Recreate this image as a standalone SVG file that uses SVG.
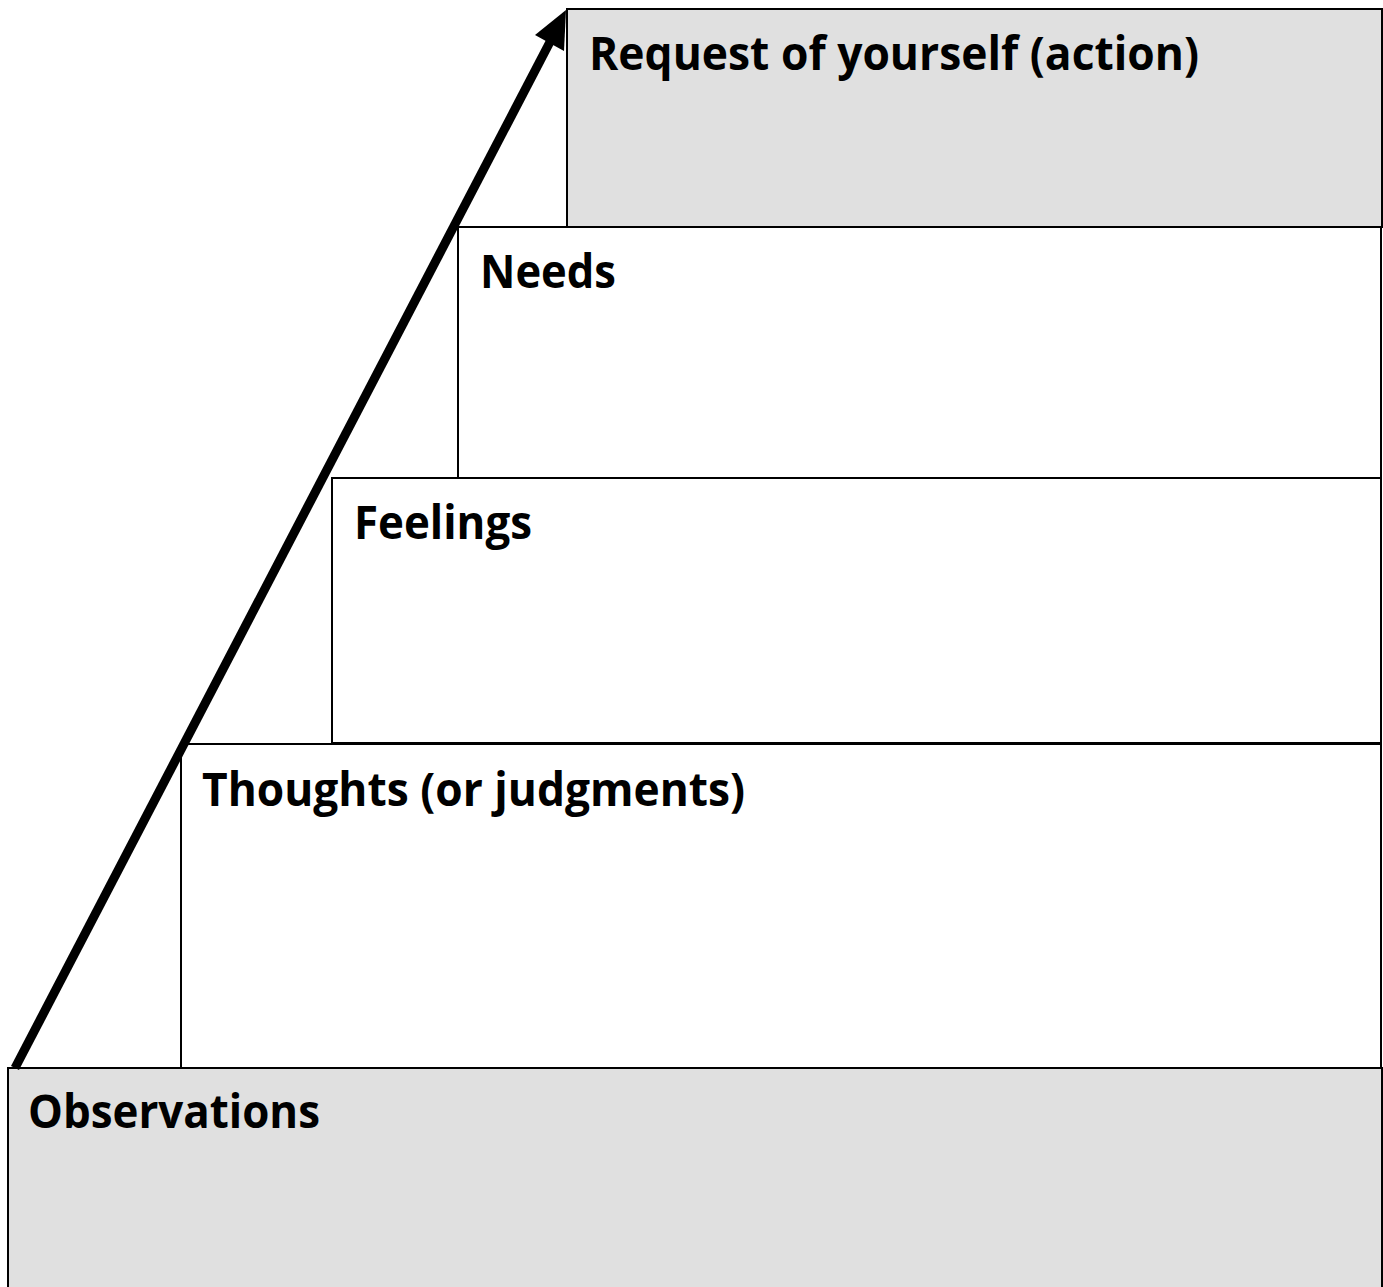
<svg xmlns="http://www.w3.org/2000/svg" width="1383" height="1287" viewBox="0 0 1383 1287">
<defs>
<style>
.box{stroke:#000;stroke-width:2}
.grey{fill:#e0e0e0}
.white{fill:#fff}
.lbl{font-family:"Open Sans","Liberation Sans",sans-serif;font-weight:bold;font-size:46px;fill:#000}
</style>
</defs>
<rect width="1383" height="1287" fill="#fff"/>
<g id="node-observations">
<rect class="box grey" x="8" y="1068" width="1374" height="230"/>
<text class="lbl" x="28" y="1128" textLength="292" lengthAdjust="spacingAndGlyphs">Observations</text>
</g>
<g id="node-thoughts">
<rect class="box white" x="181" y="744" width="1200" height="324"/>
<text class="lbl" x="202" y="806" textLength="543" lengthAdjust="spacingAndGlyphs">Thoughts (or judgments)</text>
</g>
<g id="node-feelings">
<rect class="box white" x="332" y="478" width="1049" height="265"/>
<text class="lbl" x="354" y="539" textLength="178" lengthAdjust="spacingAndGlyphs">Feelings</text>
</g>
<g id="node-needs">
<rect class="box white" x="458" y="227" width="923" height="251"/>
<text class="lbl" x="480" y="288" textLength="136" lengthAdjust="spacingAndGlyphs">Needs</text>
</g>
<g id="node-request">
<rect class="box grey" x="567" y="9" width="815" height="218"/>
<text class="lbl" x="589" y="70" textLength="610" lengthAdjust="spacingAndGlyphs">Request of yourself (action)</text>
</g>
<g id="connectors">
<line x1="15" y1="1068" x2="551" y2="40" stroke="#000" stroke-width="9"/>
<polygon points="566,10 535,35 564,51" fill="#000"/>
</g>
</svg>
